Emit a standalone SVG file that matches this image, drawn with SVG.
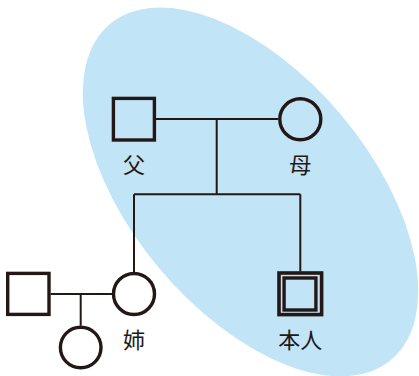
<svg xmlns="http://www.w3.org/2000/svg" width="419" height="376" viewBox="0 0 419 376">
<style>
.bg{fill:#c1e4f7}
.sym{fill:none;stroke:#231815;stroke-width:3.4}
.ln{fill:none;stroke:#231815;stroke-width:2}
.lbl{font-family:"Noto Sans CJK JP","Noto Sans CJK SC",sans-serif;font-size:22px;fill:#231815;text-anchor:middle;dominant-baseline:central}
</style>
<rect width="419" height="376" fill="#ffffff"/>
<ellipse class="bg" cx="250.5" cy="192" rx="219" ry="119" transform="rotate(50 250.5 192)"/>
<g id="connectors">
<path class="ln" d="M156 119H278M216.7 119V194.3M134 194.3H300.3M134 194.3V272M300.3 194.3V271.5"/>
<path class="ln" d="M50.5 294H112M80.7 294V325.7"/>
</g>
<g id="father">
<rect class="sym" x="113.4" y="98.4" width="41" height="41.6"/>
<text class="lbl" x="134" y="163">父</text>
</g>
<g id="mother">
<circle class="sym" cx="300.3" cy="119.2" r="20.5"/>
<text class="lbl" x="300.3" y="163">母</text>
</g>
<g id="sister">
<circle class="sym" cx="134" cy="294" r="20.5"/>
<text class="lbl" x="134" y="337.5">姉</text>
</g>
<g id="self">
<rect class="sym" x="279" y="273" width="42.6" height="41.6" style="stroke-width:3.6"/>
<rect class="sym" x="284.1" y="278" width="31.8" height="32"/>
<text class="lbl" x="300.3" y="337.5">本人</text>
</g>
<g id="sister-husband">
<rect class="sym" x="7.7" y="273.4" width="41.3" height="41"/>
</g>
<g id="sister-child">
<circle class="sym" cx="80.7" cy="347.5" r="20.3"/>
</g>
</svg>
